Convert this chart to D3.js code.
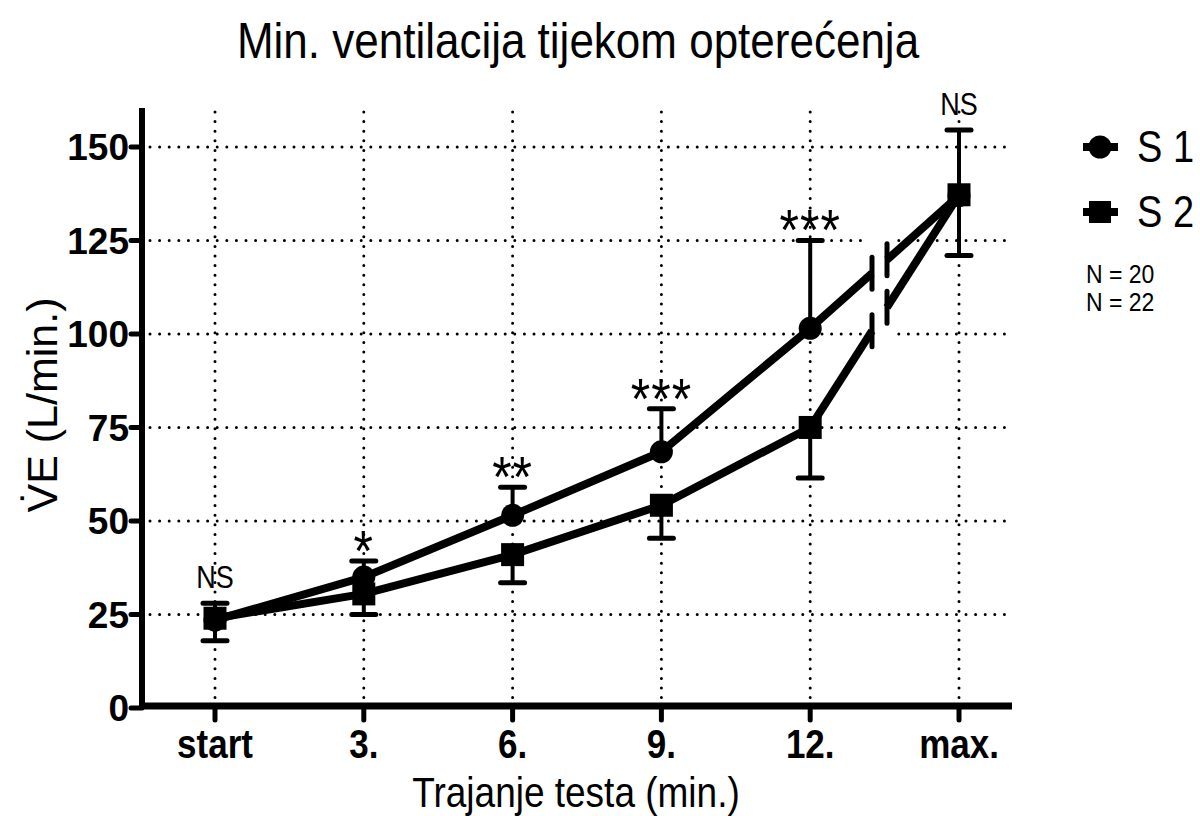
<!DOCTYPE html>
<html><head><meta charset="utf-8">
<script src="https://cdn.jsdelivr.net/npm/d3@7"></script>
<style>body{margin:0;background:#fff}svg{display:block}text{font-family:"Liberation Sans",Arial,sans-serif;fill:#000}</style>
</head><body><svg id="c" width="1200" height="816"></svg>
<script>
const categories = ["start","3.","6.","9.","12.","max."];
const s1Mean = [23.5, 35, 51.5, 68.5, 101.5, 137];
const s1Err  = [4.5, 4.3, 7.5, 11.5, 23.5, 17.5];   // upper SD
const s2Mean = [24, 30.5, 41, 54.2, 75, 137.2];
const s2Err  = [6, 5.5, 7.5, 8.8, 13.5, 16.2];      // lower SD
const signif = ["NS","*","**","***","***","NS"];
const yTicks = [0,25,50,75,100,125,150];
const legendLabels = ["S 1","S 2"];
const nLabels = ["N = 20","N = 22"];

const svg = d3.select("#c");
const x = d3.scalePoint().domain(categories).range([215, 959]);
const y = d3.scaleLinear().domain([0, 160.4]).range([708, 108]);
const axX0 = 142, axX1 = 1012, axY = 706;
const K = 1.15; // vertical stretch of horizontal text

function stext(g, px, py, size, str, anchor, weight){
  return g.append("text").attr("transform",`translate(${px},${py}) scale(1,${K})`)
    .attr("text-anchor",anchor||"start").attr("font-size",size)
    .attr("font-weight",weight||"normal").text(str);
}

// grid
const grid = svg.append("g").attr("stroke","#000").attr("stroke-width",3)
  .attr("stroke-linecap","round").attr("stroke-dasharray","0 9.6");
yTicks.filter(d=>d>0).forEach(t=>{
  grid.append("line").attr("x1",axX0+8).attr("x2",axX1).attr("y1",y(t)).attr("y2",y(t));
});
categories.forEach(c=>{
  grid.append("line").attr("x1",x(c)).attr("x2",x(c)).attr("y1",y(160.4)+4).attr("y2",axY-8);
});

// break position (between 12. and max.)
const bL = 872, bR = 887;
svg.append("rect").attr("x",bL-4).attr("y",y(128.5)).attr("width",bR-bL+10).attr("height",y(95)-y(128.5)).attr("fill","#fff");

// error bars
function errBars(mean, err, dir){
  const g = svg.append("g").attr("stroke","#000");
  categories.forEach((c,i)=>{
    const y0 = y(mean[i]), y1 = y(mean[i] + dir*err[i]);
    g.append("line").attr("x1",x(c)).attr("x2",x(c)).attr("y1",y0).attr("y2",y1).attr("stroke-width",4);
    g.append("line").attr("x1",x(c)-12).attr("x2",x(c)+12).attr("y1",y1).attr("y2",y1)
      .attr("stroke-width",5).attr("stroke-linecap","round");
  });
}
errBars(s1Mean, s1Err, 1);
errBars(s2Mean, s2Err, -1);

// lines with break
function interp(mean, xp){
  const xa = x("12."), xb = x("max.");
  const t = (xp - xa)/(xb - xa);
  return y(mean[4]) + t*(y(mean[5]) - y(mean[4]));
}
function seriesLine(mean){
  const pts = categories.slice(0,5).map((c,i)=>[x(c), y(mean[i])]);
  pts.push([bL, interp(mean,bL)]);
  svg.append("path").attr("d", d3.line()(pts)).attr("fill","none").attr("stroke","#000")
    .attr("stroke-width",8).attr("stroke-linejoin","round");
  svg.append("path").attr("d", d3.line()([[bR, interp(mean,bR)],[x("max."), y(mean[5])]]))
    .attr("fill","none").attr("stroke","#000").attr("stroke-width",8);
  [bL,bR].forEach(bx=>{
    const cy = interp(mean,bx);
    svg.append("line").attr("x1",bx).attr("x2",bx).attr("y1",cy-16).attr("y2",cy+16)
      .attr("stroke","#000").attr("stroke-width",5).attr("stroke-linecap","round");
  });
}
seriesLine(s1Mean);
seriesLine(s2Mean);

// markers
categories.forEach((c,i)=>{
  svg.append("circle").attr("cx",x(c)).attr("cy",y(s1Mean[i])).attr("r",11.5);
});
categories.forEach((c,i)=>{
  svg.append("rect").attr("x",x(c)-11.5).attr("y",y(s2Mean[i])-11.5).attr("width",23).attr("height",23);
});

// significance labels
categories.forEach((c,i)=>{
  const top = Math.max(s1Mean[i]+s1Err[i], s2Mean[i]);
  const isNS = signif[i]==="NS";
  const t = stext(svg, x(c), y(top) - (isNS?15:-10), isNS?27:50, signif[i], "middle");
  if(!isNS) t.attr("letter-spacing",1);
});

// axes
const gy = svg.append("g");
gy.append("line").attr("x1",axX0).attr("x2",axX0).attr("y1",108).attr("y2",axY+3).attr("stroke","#000").attr("stroke-width",6);
yTicks.forEach(t=>{
  gy.append("line").attr("x1",axX0-11).attr("x2",axX0).attr("y1",y(t)).attr("y2",y(t)).attr("stroke","#000").attr("stroke-width",5).attr("stroke-linecap","round");
  gy.append("text").attr("x",axX0-13).attr("y",y(t)).attr("dy","0.36em").attr("text-anchor","end")
    .attr("font-size",37).attr("font-weight","bold").text(t);
});
const gx = svg.append("g");
gx.append("line").attr("x1",axX0-3).attr("x2",axX1).attr("y1",axY).attr("y2",axY).attr("stroke","#000").attr("stroke-width",7);
categories.forEach(c=>{
  gx.append("line").attr("x1",x(c)).attr("x2",x(c)).attr("y1",axY).attr("y2",axY+14).attr("stroke","#000").attr("stroke-width",5).attr("stroke-linecap","round");
  stext(gx, x(c), 758, 35, c, "middle", "bold");
});

// titles
stext(svg, 578, 58, 44, "Min. ventilacija tijekom opterećenja", "middle");
stext(svg, 576, 807, 37, "Trajanje testa (min.)", "middle");
svg.append("text").attr("transform","translate(57,405) rotate(-90)").attr("text-anchor","middle").attr("font-size",43)
  .text("V\u0307E (L/min.)");

// legend
const lg = svg.append("g");
[147, 212].forEach((ly,i)=>{
  lg.append("line").attr("x1",1083).attr("x2",1118).attr("y1",ly).attr("y2",ly).attr("stroke","#000").attr("stroke-width",8);
  if(i===0) lg.append("circle").attr("cx",1100).attr("cy",ly).attr("r",11.5);
  else lg.append("rect").attr("x",1089).attr("y",ly-11).attr("width",22).attr("height",22);
  stext(lg, 1137, ly+15, 38, legendLabels[i]);
});
nLabels.forEach((t,i)=>{
  stext(lg, 1086, 283+i*28, 23, t);
});
</script></body></html>
